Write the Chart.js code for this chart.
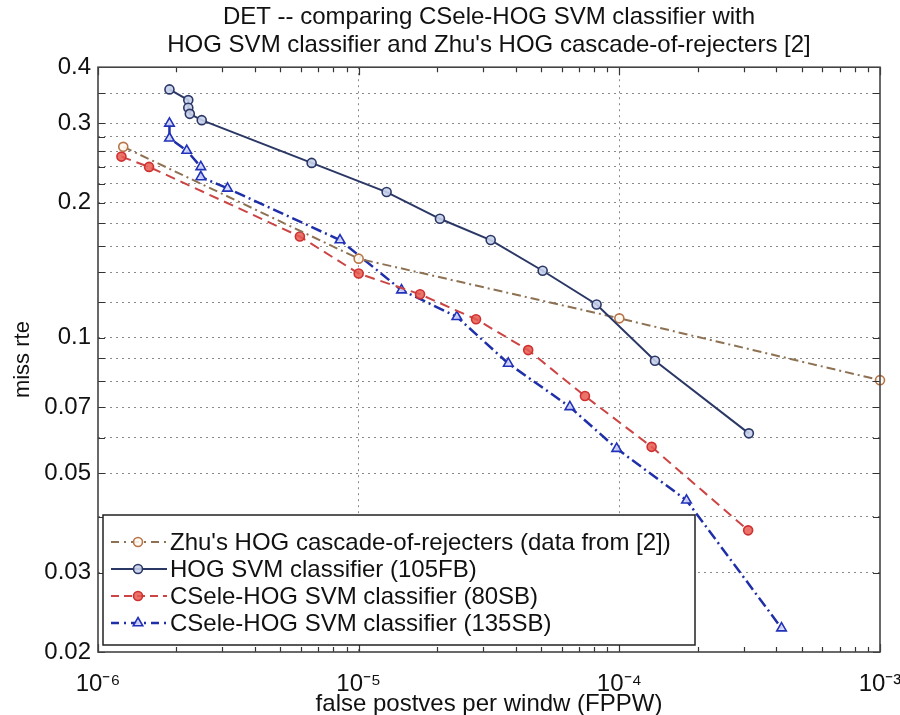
<!DOCTYPE html>
<html>
<head>
<meta charset="utf-8">
<script src="https://cdn.jsdelivr.net/npm/chart.js@4/dist/chart.umd.min.js"></script>
<style>
  html, body { margin: 0; padding: 0; background: #fff; }
  #wrap { width: 900px; height: 715px; }
</style>
</head>
<body>
<div id="wrap"><canvas id="det" width="900" height="715"></canvas></div>
<script>
// DET curves, values

var seriesNames = [
  "Zhu's HOG cascade-of-rejecters (data from [2])",
  "HOG SVM classifier (105FB)",
  "CSele-HOG SVM classifier (80SB)",
  "CSele-HOG SVM classifier (135SB)"
];

var zhuFppw = [1.25e-6, 1.0e-5, 1.0e-4, 1.0e-3];
var zhuMiss = [0.266, 0.150, 0.1105, 0.0805];

var hogFppw = [1.88e-6, 2.22e-6, 2.22e-6, 2.25e-6, 2.5e-6, 6.6e-6, 1.28e-5, 2.05e-5, 3.21e-5, 5.08e-5, 8.18e-5, 1.37e-4, 3.14e-4];
var hogMiss = [0.357, 0.338, 0.325, 0.315, 0.305, 0.245, 0.211, 0.184, 0.165, 0.141, 0.1186, 0.0889, 0.0613];

var sb80Fppw = [1.23e-6, 1.57e-6, 5.95e-6, 1.0e-5, 1.72e-5, 2.82e-5, 4.47e-5, 7.38e-5, 1.33e-4, 3.12e-4];
var sb80Miss = [0.253, 0.240, 0.168, 0.139, 0.125, 0.110, 0.0939, 0.0742, 0.0572, 0.0373];

var sb135Fppw = [1.88e-6, 1.88e-6, 2.19e-6, 2.48e-6, 2.48e-6, 3.14e-6, 8.48e-6, 1.46e-5, 2.38e-5, 3.75e-5, 6.46e-5, 9.77e-5, 1.81e-4, 4.19e-4];
var sb135Miss = [0.300, 0.278, 0.261, 0.240, 0.228, 0.215, 0.165, 0.1277, 0.1114, 0.0877, 0.0702, 0.0567, 0.0435, 0.0226];

// axis ticks
var xDecades = [1e-6, 1e-5, 1e-4, 1e-3];
var xDecadeLabels = ["10\u207B\u2076", "10\u207B\u2075", "10\u207B\u2074", "10\u207B\u00B3"];
var yGridValues = [0.02, 0.03, 0.04, 0.05, 0.06, 0.07, 0.08, 0.09, 0.1, 0.12, 0.14, 0.16, 0.18, 0.2, 0.22, 0.24, 0.26, 0.28, 0.3, 0.35, 0.4];
var yTickLabels = [0.02, 0.03, 0.05, 0.07, 0.1, 0.2, 0.3, 0.4];

var FONT = "'Liberation Sans', Arial, sans-serif";

function toPoints(xs, ys) {
  return xs.map(function (x, i) { return { x: x, y: ys[i] }; });
}

function sameValue(a, b) {
  return Math.abs(a - b) / b < 1e-6;
}

// minor/major x ticks: 1..9 x each decade
var xTickValues = [];
xDecades.forEach(function (d, i) {
  if (i == xDecades.length - 1) { xTickValues.push(d); return; }
  for (var m = 1; m < 10; m++) xTickValues.push(m * d);
});

var styles = [
  { line: '#8e7152', point: '#b87448', fill: 'rgba(255,250,240,0.9)', dash: [9, 4, 2, 4], width: 2, style: 'circle', radius: 4.5 },
  { line: '#2b3866', point: '#2b3866', fill: 'rgba(200,210,235,0.9)', dash: [], width: 2, style: 'circle', radius: 4.5 },
  { line: '#cc4444', point: '#d03030', fill: 'rgba(230,90,80,0.85)', dash: [10, 6], width: 2, style: 'circle', radius: 4.5 },
  { line: '#1f2fa8', point: '#2232b8', fill: 'rgba(215,220,255,0.9)', dash: [11, 4, 2, 4], width: 2.5, style: 'triangle', radius: 5.5 }
];

var seriesData = [
  toPoints(zhuFppw, zhuMiss),
  toPoints(hogFppw, hogMiss),
  toPoints(sb80Fppw, sb80Miss),
  toPoints(sb135Fppw, sb135Miss)
];

var datasets = seriesData.map(function (pts, i) {
  var s = styles[i];
  return {
    label: seriesNames[i],
    data: pts,
    showLine: true,
    borderColor: s.line,
    borderWidth: s.width,
    borderDash: s.dash,
    pointStyle: s.style,
    pointRadius: s.radius,
    pointBorderColor: s.point,
    pointBackgroundColor: s.fill,
    pointBorderWidth: 1.6,
    clip: false,
    order: i == 1 ? 0 : 1
  };
});

// frame, inner tick marks and the boxed legend drawn inside the plot
var framePlugin = {
  id: 'frame',
  afterLayout: function (chart) {
    // title centred over the plot, like the original figure
    if (chart.titleBlock) {
      chart.titleBlock.left = chart.chartArea.left;
      chart.titleBlock.right = chart.chartArea.right;
    }
  },
  afterDraw: function (chart) {
    var ctx = chart.ctx, a = chart.chartArea;
    var xs = chart.scales.x, ys = chart.scales.y;
    ctx.save();
    ctx.strokeStyle = '#333';
    ctx.lineWidth = 1.2;
    ctx.setLineDash([]);
    ctx.beginPath();
    xTickValues.forEach(function (v) {
      var px = Math.round(xs.getPixelForValue(v)) + 0.5;
      var len = xDecades.some(function (d) { return sameValue(d, v); }) ? 8 : 5;
      ctx.moveTo(px, a.bottom); ctx.lineTo(px, a.bottom - len);
      ctx.moveTo(px, a.top); ctx.lineTo(px, a.top + len);
    });
    yGridValues.forEach(function (v) {
      var py = Math.round(ys.getPixelForValue(v)) + 0.5;
      ctx.moveTo(a.left, py); ctx.lineTo(a.left + 7, py);
      ctx.moveTo(a.right, py); ctx.lineTo(a.right - 7, py);
    });
    ctx.stroke();

    ctx.lineWidth = 1.6;
    ctx.strokeStyle = '#444';
    ctx.strokeRect(a.left, a.top, a.right - a.left, a.bottom - a.top);

    // legend
    var bx = a.left + 5, by = 515, bw = 592, bh = 130;
    ctx.fillStyle = '#fff';
    ctx.fillRect(bx, by, bw, bh);
    ctx.lineWidth = 1.5;
    ctx.strokeStyle = '#222';
    ctx.strokeRect(bx, by, bw, bh);
    ctx.font = '24px ' + FONT;
    ctx.textBaseline = 'middle';
    seriesNames.forEach(function (name, i) {
      var s = styles[i];
      var ry = by + 27 + i * 27;
      ctx.strokeStyle = s.line;
      ctx.lineWidth = s.width;
      ctx.setLineDash(s.dash.length ? [8, 5, 2, 5].slice(0, s.dash.length) : []);
      ctx.beginPath();
      ctx.moveTo(bx + 8, ry); ctx.lineTo(bx + 64, ry);
      ctx.stroke();
      ctx.setLineDash([]);
      ctx.strokeStyle = s.point;
      ctx.fillStyle = s.fill;
      ctx.lineWidth = 1.6;
      Chart.helpers.drawPoint(ctx, { pointStyle: s.style, radius: s.radius, rotation: 0, borderWidth: 1.6 }, bx + 35, ry);
      ctx.fillStyle = '#111';
      ctx.fillText(name, bx + 67, ry + 1);
    });
    ctx.restore();
  }
};

var chart = new Chart(document.getElementById('det'), {
  type: 'scatter',
  data: { datasets: datasets },
  options: {
    responsive: false,
    animation: false,
    layout: { padding: { left: 0, right: 20, top: 0, bottom: 0 } },
    plugins: {
      legend: { display: false },
      tooltip: { enabled: false },
      title: {
        display: true,
        text: ['DET -- comparing CSele-HOG SVM classifier with', "HOG SVM classifier and Zhu's HOG cascade-of-rejecters [2]"],
        color: '#111',
        font: { family: FONT, size: 24, weight: 'normal', lineHeight: 1.15 },
        padding: { top: 4, bottom: 8 }
      }
    },
    scales: {
      x: {
        type: 'logarithmic',
        min: 1e-6,
        max: 1e-3,
        afterBuildTicks: function (scale) {
          scale.ticks = xTickValues.map(function (v) { return { value: v }; });
        },
        afterFit: function (scale) {
          scale.height = 63;
          scale.paddingLeft = 0;
          scale.paddingRight = 0;
        },
        ticks: {
          autoSkip: false,
          maxRotation: 0,
          padding: 18,
          color: '#111',
          font: { family: FONT, size: 24 },
          callback: function (v) {
            for (var i = 0; i < xDecades.length; i++) {
              if (sameValue(xDecades[i], v)) return xDecadeLabels[i];
            }
            return '';
          }
        },
        grid: {
          drawTicks: false,
          lineWidth: 1,
          color: function (c) {
            var v = c.tick && c.tick.value;
            if (v && (sameValue(v, 1e-5) || sameValue(v, 1e-4))) return '#8a8a8a';
            return 'rgba(0,0,0,0)';
          }
        },
        border: { display: false, dash: [2, 4] },
        title: {
          display: true,
          text: 'false postves per windw (FPPW)',
          color: '#111',
          font: { family: FONT, size: 24 },
          padding: { top: 0, bottom: -4 }
        }
      },
      y: {
        type: 'logarithmic',
        min: 0.02,
        max: 0.4,
        afterBuildTicks: function (scale) {
          scale.ticks = yGridValues.map(function (v) { return { value: v }; });
        },
        afterFit: function (scale) { scale.width = 98; },
        ticks: {
          autoSkip: false,
          padding: 7,
          color: '#111',
          font: { family: FONT, size: 24 },
          callback: function (v) {
            for (var i = 0; i < yTickLabels.length; i++) {
              if (sameValue(yTickLabels[i], v)) return String(yTickLabels[i]);
            }
            return '';
          }
        },
        grid: {
          drawTicks: false,
          lineWidth: 1,
          color: function (c) {
            var v = c.tick && c.tick.value;
            if (!v || sameValue(v, 0.02) || sameValue(v, 0.4)) return 'rgba(0,0,0,0)';
            return '#8a8a8a';
          }
        },
        border: { display: false, dash: [2, 4] },
        title: {
          display: true,
          text: 'miss rte',
          color: '#111',
          font: { family: FONT, size: 22 },
          padding: { top: 10, bottom: 0 }
        }
      }
    }
  },
  plugins: [framePlugin]
});
</script>
</body>
</html>
